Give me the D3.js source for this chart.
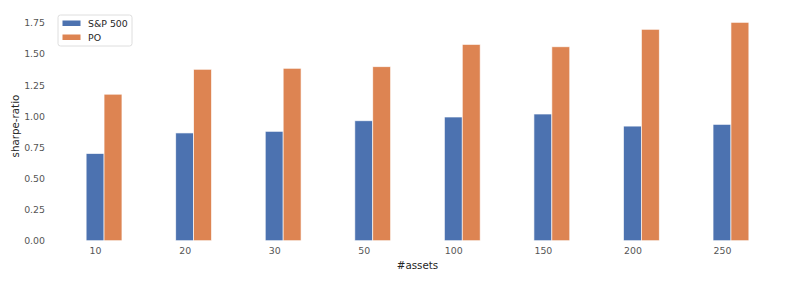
<!DOCTYPE html>
<html>
<head>
<meta charset="utf-8">
<script src="https://cdn.jsdelivr.net/npm/d3@7"></script>
<style>
  body { margin: 0; background: #fff; }
  text { font-family: "DejaVu Sans", sans-serif; }
</style>
</head>
<body>
<svg id="chart" width="793" height="283"></svg>
<script>
// dati
var assets = ['10', '20', '30', '50', '100', '150', '200', '250'];
var sp500 = [0.70, 0.865, 0.878, 0.963, 0.993, 1.017, 0.920, 0.934];
var po = [1.176, 1.376, 1.384, 1.397, 1.576, 1.557, 1.697, 1.753];
var yTicks = [0, 0.25, 0.5, 0.75, 1.0, 1.25, 1.5, 1.75];
var serie = ['S&P 500', 'PO'];
var colori = ['#4c72b0', '#dd8452'];

var svg = d3.select('#chart');
var margine = { sx: 53, dx: 782, alto: 11.5, basso: 240.7 };
var larghezzaBarra = 0.2;

// asse x in "indice", come matplotlib (tick al centro della barra blu)
var x = d3.scaleLinear().domain([-0.47, 7.67]).range([margine.sx, margine.dx]);
var y = d3.scaleLinear().domain([0, 1.84]).range([margine.basso, margine.alto]);

// barre
var gruppi = [sp500, po];
gruppi.forEach(function (valori, s) {
  svg.append('g').selectAll('rect')
    .data(valori)
    .enter().append('rect')
    .attr('x', function (d, i) { return x(i + s * larghezzaBarra - larghezzaBarra / 2); })
    .attr('width', x(larghezzaBarra) - x(0))
    .attr('y', function (d) { return y(d); })
    .attr('height', function (d) { return y(0) - y(d); })
    .attr('fill', colori[s])
    .attr('stroke', '#fff')
    .attr('stroke-opacity', 0.8)
    .attr('stroke-width', 0.8);
});

// asse y
var assey = svg.append('g')
  .attr('transform', 'translate(' + (margine.sx - 4) + ',0)')
  .call(d3.axisLeft(y).tickValues(yTicks).tickFormat(d3.format('.2f')).tickSize(0).tickPadding(4));
assey.select('.domain').remove();
assey.selectAll('text').attr('font-size', 9.4).attr('fill', '#555').attr('font-family', 'DejaVu Sans');

// asse x
var assex = svg.append('g')
  .attr('transform', 'translate(0,' + (margine.basso + 6.5) + ')')
  .call(d3.axisBottom(x).tickValues(d3.range(assets.length)).tickFormat(function (d) { return assets[d]; }).tickSize(0).tickPadding(0));
assex.select('.domain').remove();
assex.selectAll('text').attr('font-size', 9.4).attr('fill', '#555').attr('font-family', 'DejaVu Sans');

// etichette degli assi
svg.append('text')
  .attr('x', (margine.sx + margine.dx) / 2)
  .attr('y', 269)
  .attr('text-anchor', 'middle')
  .attr('font-size', 10.3)
  .attr('fill', '#262626')
  .text('#assets');

svg.append('text')
  .attr('transform', 'translate(19,' + ((margine.alto + margine.basso) / 2) + ') rotate(-90)')
  .attr('text-anchor', 'middle')
  .attr('font-size', 10.3)
  .attr('fill', '#262626')
  .text('sharpe-ratio');

// legenda
var legenda = svg.append('g').attr('transform', 'translate(58,15)');
legenda.append('rect')
  .attr('width', 74).attr('height', 31)
  .attr('rx', 2.5)
  .attr('fill', '#fff').attr('fill-opacity', 0.8)
  .attr('stroke', '#d6d6d6').attr('stroke-width', 0.8);
serie.forEach(function (nome, s) {
  legenda.append('rect')
    .attr('x', 4.5).attr('y', 5.5 + s * 14)
    .attr('width', 18).attr('height', 5.5)
    .attr('fill', colori[s]);
  legenda.append('text')
    .attr('x', 30).attr('y', 12 + s * 14)
    .attr('font-size', 9.4)
    .attr('fill', '#262626')
    .text(nome);
});
</script>
</body>
</html>
